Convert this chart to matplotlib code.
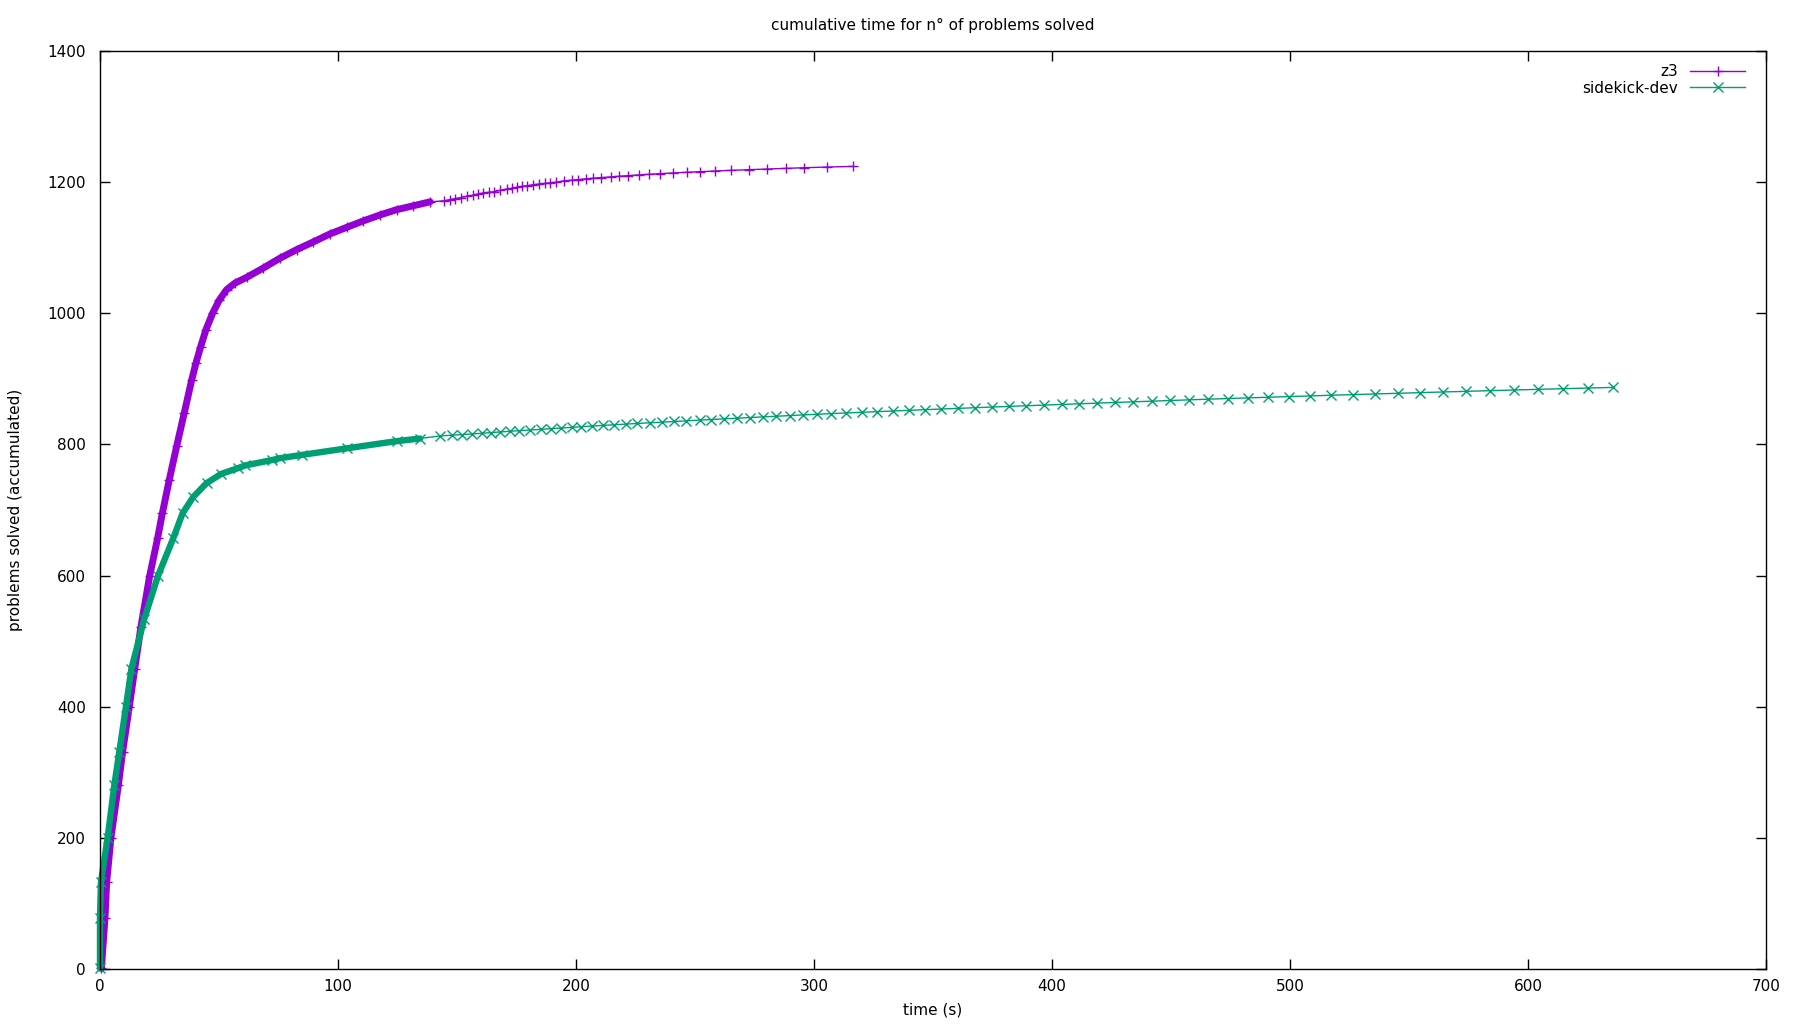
import matplotlib
matplotlib.use('Agg')
import matplotlib.pyplot as plt

# cumulative time (s) vs number of problems solved
z3_time = [0.6, 2.1, 2.8, 4.6, 7.7, 9.5, 12.3, 14.6, 17.2, 20.9, 24.2, 26.2,
           29.1, 32.2, 35.4, 38.5, 40.3, 42.3, 44.5, 47.3, 50.1, 53.2, 56.7,
           61.7, 68.6, 75.6, 82.6, 89.7, 96.6, 103.6, 110.7, 117.7, 124.6,
           131.7, 138.7,
           144.5, 147.1, 149.3, 151.8, 154.1, 156.6, 158.7, 161.1, 163.3,
           165.7, 168.2, 170.9, 173.0, 175.1, 177.2, 179.6, 181.8, 184.3,
           186.8, 189.1, 191.7,
           195.0, 198.2, 200.9, 204.1, 207.3, 210.5, 214.6, 218.2, 222.0,
           226.3, 230.8, 235.3, 240.6, 246.5, 252.3, 258.5, 265.2, 272.5,
           280.1, 288.1, 296.0, 305.4, 316.2]
z3_solved = [1, 78, 133, 200, 280, 331, 400, 458, 522, 600, 657, 695,
             746, 797, 848, 898, 924, 949, 975, 1000, 1020, 1036, 1046,
             1055, 1069, 1084, 1097, 1109, 1121, 1131, 1141, 1150, 1158,
             1164, 1170,
             1171.5, 1173.5, 1175, 1176.5, 1178.5, 1180, 1182, 1183.5, 1184.5,
             1185.5, 1187.5, 1189.5, 1190.5, 1192, 1193.5, 1194.5, 1196, 1197,
             1198, 1199, 1200,
             1202, 1203, 1204, 1205, 1206, 1207, 1208, 1209, 1210,
             1211, 1212, 1213, 1214, 1215, 1216, 1217, 1218, 1219,
             1220, 1221, 1222, 1223, 1224]

sk_time = [0.0, 0.0, 0.4, 3.2, 6.0, 8.1, 10.9, 13.2, 18.6, 24.4,
           30.8, 34.7, 39.2, 44.8, 50.9, 58.1, 61.0, 72.1, 75.6, 84.8,
           103.6, 124.6, 134.5,
           142.9, 147.7, 151.9, 156.2, 160.4, 164.2, 168.1, 172.2, 176.1,
           180.7, 185.2, 189.4, 193.7, 198.2, 202.3, 206.9, 211.2, 216.1,
           221.0, 225.7, 231.1, 236.3, 241.3,
           246.3, 251.9, 256.9, 262.2, 267.8, 273.1, 278.7, 284.2, 290.0,
           295.3, 301.3, 307.3, 313.6, 320.1, 326.5, 333.3, 340.0, 346.7,
           353.5, 360.6, 367.6, 374.8, 382.1, 389.2, 396.8, 404.1, 411.5,
           419.1, 426.6, 434.2,
           442.1, 449.7, 457.7, 465.6, 474.1, 482.5, 490.9, 499.7, 508.5,
           517.4, 526.6, 535.8, 545.5, 554.7, 564.4, 574.1, 584.1, 594.3,
           604.3, 614.8, 625.3, 635.9]
sk_solved = [1, 78, 133, 200, 280, 331, 400, 458, 534, 600,
             657, 695, 720, 741, 755, 764, 768, 776, 779, 784,
             794, 805, 809,
             813, 814, 815, 816, 817, 818, 819, 820, 821,
             822, 823, 824, 825, 826, 827, 828, 829, 830,
             831, 832, 833, 834, 835,
             836, 837, 838, 839, 840, 841, 842, 843, 844,
             845, 846, 847, 848, 849, 850, 851, 852, 853,
             854, 855, 856, 857, 858, 859, 860, 861, 862,
             863, 864, 865,
             866, 867, 868, 869, 870, 871, 872, 873, 874,
             875, 876, 877, 878, 879, 880, 881, 882, 883,
             884, 885, 886, 887]

series = ['z3', 'sidekick-dev']
colors = ['#9400D3', '#009E73']
markers = ['+', 'x']

plt.rcParams['font.family'] = 'DejaVu Sans'
plt.rcParams['font.size'] = 11

fig = plt.figure(figsize=(18, 10.24), dpi=100)
ax = fig.add_axes([100 / 1800, 1 - 969 / 1024, 1666 / 1800, 918 / 1024])

# where the markers pile up into a solid band
band_until = [140, 135]
band_width = [5.0, 4.6]

for name, t, n, c, m, cut, bw in zip(series, [z3_time, sk_time], [z3_solved, sk_solved],
                                     colors, markers, band_until, band_width):
    tb = [a for a in t if a <= cut]
    nb = [b for a, b in zip(t, n) if a <= cut]
    ax.plot(tb, nb, color=c, lw=bw, solid_capstyle='round', clip_on=False)
    ax.plot(t, n, color=c, lw=1.0, marker=m, markersize=6.5, mew=1.0,
            label=name, clip_on=False)

ax.set_xlim(0, 700)
ax.set_ylim(0, 1400)
ax.set_xticks(range(0, 701, 100))
ax.set_yticks(range(0, 1401, 200))
ax.tick_params(direction='in', length=7.2, width=1.0, top=True, right=True,
               labelsize=11)
ax.tick_params(axis='y', pad=10)
ax.tick_params(axis='x', pad=7)
for s in ax.spines.values():
    s.set_linewidth(1.0)

ax.set_title('cumulative time for n° of problems solved', fontsize=11, pad=15)
ax.set_xlabel('time (s)', fontsize=11)
ax.set_ylabel('problems solved (accumulated)', fontsize=11)
ax.xaxis.set_label_coords(0.5, -0.037)
ax.yaxis.set_label_coords(-0.046, 0.5)

ax.legend(loc='upper right', bbox_to_anchor=(1 - 21 / 1666, 1 - 13 / 918),
          frameon=False, markerfirst=False, numpoints=1, handlelength=3.6,
          handletextpad=0.8, labelspacing=0.1, borderpad=0, borderaxespad=0,
          fontsize=11)

fig.savefig('out.png', dpi=100)
